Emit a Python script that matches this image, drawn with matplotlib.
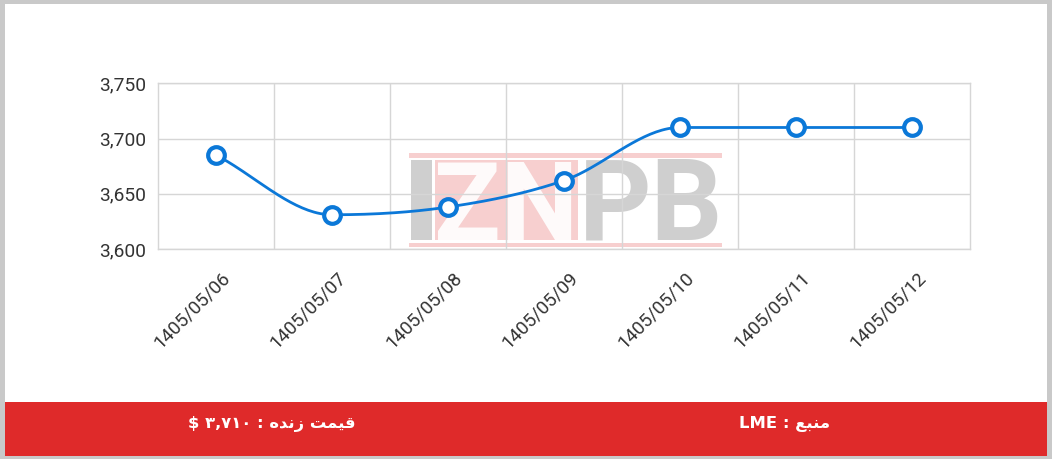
import numpy as np
import matplotlib
matplotlib.use("Agg")
import matplotlib.pyplot as plt
from matplotlib.patches import Rectangle
from matplotlib.transforms import ScaledTranslation
from matplotlib.ticker import FuncFormatter

# ---- data ----
dates = ["1405/05/06", "1405/05/07", "1405/05/08", "1405/05/09",
         "1405/05/10", "1405/05/11", "1405/05/12"]
prices = [3685, 3631, 3638, 3662, 3710, 3710, 3710]
y_ticks = [3600, 3650, 3700, 3750]
live_price_text = "$ \u06F3,\u06F7\u06F1\u06F0 : \uFEE9\uFEAA\uFEE7\uFEAF \uFE96\uFEE4\uFEF4\uFED7"
source_text = "LME : \uFECA\uFE92\uFEE8\uFEE3"

W, H = 1052, 459
fig = plt.figure(figsize=(W / 100, H / 100), dpi=100)
fig.patch.set_facecolor("#c9c9c9")

def px_rect(x0, y0, x1, y1, **kw):
    # image pixel coords (y down) -> figure fraction
    return Rectangle((x0 / W, 1 - y1 / H), (x1 - x0) / W, (y1 - y0) / H,
                     transform=fig.transFigure, **kw)

fig.patches.append(px_rect(5, 4, 1047, 456, facecolor="white", edgecolor="none", zorder=0.5))
fig.patches.append(px_rect(5, 402, 1047, 456, facecolor="#df2a2a", edgecolor="none", zorder=1))

# ---- watermark (IZNPB logo) ----
wm_alpha = 0.5
pink = "#f0a0a0"
grey = "#a0a0a0"
fig.patches.append(px_rect(409, 153, 722, 158, facecolor=pink, edgecolor="none", alpha=wm_alpha, zorder=2))
fig.patches.append(px_rect(409, 243, 722, 247, facecolor=pink, edgecolor="none", alpha=wm_alpha, zorder=2))
fig.patches.append(px_rect(411, 160, 432, 240, facecolor=grey, edgecolor="none", alpha=wm_alpha, zorder=2))
fig.patches.append(px_rect(435, 160, 578, 240, facecolor=pink, edgecolor="none", alpha=wm_alpha, zorder=2))
fig.text(506 / W, 1 - 240 / H, "ZN", color="white", fontsize=79, fontweight="bold",
         fontfamily="Roboto", ha="center", va="baseline", alpha=0.9, zorder=2.5)
fig.text(651 / W, 1 - 240 / H, "PB", color=grey, fontsize=81, fontweight="bold",
         fontfamily="Roboto", ha="center", va="baseline", alpha=wm_alpha, zorder=2.5)

# ---- axes ----
left, right, top, bottom = 158, 970, 83.3, 249
ax = fig.add_axes([left / W, 1 - bottom / H, (right - left) / W, (bottom - top) / H])
ax.set_zorder(3)
ax.set_facecolor("none")
x = np.arange(len(prices))
ax.set_xlim(-0.5, len(prices) - 0.5)
ax.set_ylim(y_ticks[0], y_ticks[-1])
ax.set_yticks(y_ticks)
ax.yaxis.set_major_formatter(FuncFormatter(lambda v, p: f"{int(v):,}"))
ax.set_xticks(x)
ax.set_xticks(x[:-1] + 0.5, minor=True)
ax.grid(True, which="minor", axis="x", color="#d6d6d6", lw=1)
ax.grid(True, which="major", axis="y", color="#d6d6d6", lw=1)
ax.set_axisbelow(True)
for s in ax.spines.values():
    s.set_color("#d6d6d6")
    s.set_linewidth(1)
ax.tick_params(which="both", length=0)
ax.tick_params(axis="y", pad=8.6, labelsize=13.8, labelcolor="#333333")
ax.tick_params(axis="x", pad=19, labelsize=13.5, labelcolor="#333333")
for lab in ax.get_yticklabels():
    lab.set_fontfamily("Roboto")
ax.set_xticklabels(dates, rotation=45, ha="right", va="center",
                   rotation_mode="anchor", fontfamily="Roboto")
off = ScaledTranslation(11 / 100, 0, fig.dpi_scale_trans)
for lab in ax.get_xticklabels():
    lab.set_transform(lab.get_transform() + off)

# ---- monotone cubic line (Chart.js style) ----
xs = x.astype(float)
ys = np.array(prices, dtype=float)
n = len(xs)
d = np.diff(ys) / np.diff(xs)
m = np.zeros(n)
m[0], m[-1] = d[0], d[-1]
for i in range(1, n - 1):
    if d[i - 1] == 0 or d[i] == 0 or np.sign(d[i - 1]) != np.sign(d[i]):
        m[i] = 0
    else:
        m[i] = (d[i - 1] + d[i]) / 2
for i in range(n - 1):
    if d[i] == 0:
        m[i] = m[i + 1] = 0
        continue
    a, b = m[i] / d[i], m[i + 1] / d[i]
    s2 = a * a + b * b
    if s2 > 9:
        t = 3 / np.sqrt(s2)
        m[i], m[i + 1] = a * t * d[i], b * t * d[i]
cx, cy = [], []
tt = np.linspace(0, 1, 40)
for i in range(n - 1):
    h = xs[i + 1] - xs[i]
    p0 = np.array([xs[i], ys[i]])
    p3 = np.array([xs[i + 1], ys[i + 1]])
    p1 = np.array([xs[i] + h / 3, ys[i] + m[i] * h / 3])
    p2 = np.array([xs[i + 1] - h / 3, ys[i + 1] - m[i + 1] * h / 3])
    B = ((1 - tt) ** 3)[:, None] * p0 + (3 * (1 - tt) ** 2 * tt)[:, None] * p1 \
        + (3 * (1 - tt) * tt ** 2)[:, None] * p2 + (tt ** 3)[:, None] * p3
    cx.extend(B[:, 0]); cy.extend(B[:, 1])

blue = "#0b78d8"
ax.plot(cx, cy, color=blue, lw=2, zorder=5, clip_on=False)
ax.plot(xs, ys, ls="none", marker="o", ms=12, mfc="white", mec=blue, mew=3,
        zorder=6, clip_on=False)

# ---- footer texts ----
fig.text(272 / W, 1 - 424 / H, live_price_text, color="white", fontsize=11.8,
         fontweight="bold", fontfamily="DejaVu Sans", ha="center", va="center", zorder=4)
fig.text(785 / W, 1 - 424 / H, source_text, color="white", fontsize=11.8,
         fontweight="bold", fontfamily="DejaVu Sans", ha="center", va="center", zorder=4)

fig.savefig("out.png", dpi=100, facecolor=fig.get_facecolor())
